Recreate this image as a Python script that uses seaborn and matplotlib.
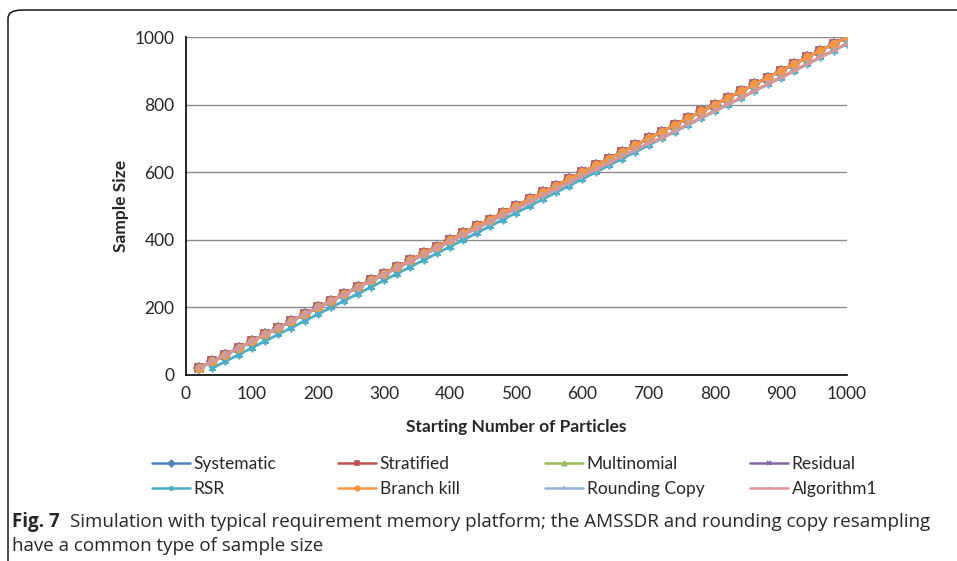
import matplotlib.pyplot as plt
import seaborn as sns
import numpy as np
from matplotlib.patches import FancyBboxPatch

# starting number of particles
x_vals = list(range(20, 1001, 20))
# most methods keep the sample size equal to the starting number
systematic = list(range(20, 1001, 20))
stratified = list(range(20, 1001, 20))
multinomial = list(range(20, 1001, 20))
residual = list(range(20, 1001, 20))
branch_kill = list(range(20, 1001, 20))
rsr_x = list(range(40, 1001, 20))
rsr = list(range(20, 981, 20))
algorithm1 = [20, 40, 60, 80, 100, 120, 140, 160, 180, 200,
              218, 238, 258, 277, 297, 316, 336, 355, 375, 394,
              414, 433, 453, 472, 492, 511, 531, 550, 569, 589,
              608, 627, 647, 666, 686, 700, 722, 742, 762, 781,
              801, 820, 840, 860, 880, 900, 920, 940, 960, 980]
rounding_copy = [20, 40, 60, 80, 100, 120, 140, 160, 180, 200,
                 218, 238, 258, 277, 297, 316, 336, 355, 375, 394,
                 414, 433, 453, 472, 492, 511, 531, 550, 569, 589,
                 608, 627, 647, 666, 686, 701, 722, 742, 762, 781,
                 801, 820, 840, 860, 880, 900, 920, 940, 960, 980]

series = [
    ('Systematic', x_vals, systematic, '#4F81BD', 'D'),
    ('Stratified', x_vals, stratified, '#C0504D', 's'),
    ('Multinomial', x_vals, multinomial, '#9BBB59', '^'),
    ('Residual', x_vals, residual, '#8064A2', 'x'),
    ('RSR', rsr_x, rsr, '#4BACC6', (6, 2, 0)),
    ('Branch kill', x_vals, branch_kill, '#F79646', 'o'),
    ('Rounding Copy', x_vals, rounding_copy, '#95B3D7', '+'),
    ('Algorithm1', x_vals, algorithm1, '#D99694', '_'),
]

sns.set_style('white')
plt.rcParams['font.family'] = ['Lato', 'DejaVu Sans']

fig = plt.figure(figsize=(9.57, 5.61), dpi=100)
ax = fig.add_axes([0.194, 0.3316, 0.691, 0.6024])

for name, xs, ys, color, mk in series:
    sns.lineplot(x=xs, y=ys, ax=ax, color=color, marker=mk, markersize=5.5,
                 markeredgecolor=color, markeredgewidth=1.2, linewidth=2,
                 label=name)

ax.set_xlim(0, 1000)
ax.set_ylim(0, 1000)
ax.set_xticks(range(0, 1001, 100))
ax.set_yticks(range(0, 1001, 200))
ax.yaxis.grid(True, color='#8c8c8c', linewidth=1)
ax.set_axisbelow(True)
for s in ['top', 'right']:
    ax.spines[s].set_visible(False)
for s in ['left', 'bottom']:
    ax.spines[s].set_color('black')
    ax.spines[s].set_linewidth(1.2)
ax.tick_params(axis='both', labelsize=12.5, length=0, pad=8)
ax.set_xlabel('Starting Number of Particles', fontsize=12.5, fontweight='bold', labelpad=12)
ax.set_ylabel('Sample Size', fontsize=12.5, fontweight='bold', labelpad=4)

handles, labels = ax.get_legend_handles_labels()
ax.legend_.remove()
# one small legend per column, placed like the Excel legend grid
col_x = [152, 338, 545, 750]
for c, x0 in enumerate(col_x):
    idx = [c, c + 4]
    leg = fig.legend([handles[i] for i in idx], [labels[i] for i in idx],
                     loc='upper left', bbox_to_anchor=(x0 / 957, 1 - 456 / 561),
                     frameon=False, fontsize=12.5, handlelength=2.2,
                     handletextpad=0.2, labelspacing=0.5, markerscale=0.6,
                     borderpad=0, borderaxespad=0)
    for h in leg.legend_handles:
        h.set_linewidth(1.8)

# outer frame of the figure panel
frame = FancyBboxPatch((8 / 957, -0.1), 1.2, (561 - 10) / 561 + 0.1,
                       boxstyle='round,pad=0,rounding_size=0.015',
                       transform=fig.transFigure, fill=False,
                       edgecolor='black', linewidth=1, clip_on=False)
fig.patches.append(frame)

fig.text(12 / 957, 1 - 522 / 561, 'Fig. 7', fontsize=13.5, fontweight='bold',
         family='Open Sans', va='center', ha='left')
fig.text(70 / 957, 1 - 522 / 561,
         'Simulation with typical requirement memory platform; the AMSSDR and rounding copy resampling',
         fontsize=13.5, family='Open Sans', va='center', ha='left')
fig.text(12 / 957, 1 - 546 / 561, 'have a common type of sample size',
         fontsize=13.5, family='Open Sans', va='center', ha='left')

fig.savefig('out.png', dpi=100)
